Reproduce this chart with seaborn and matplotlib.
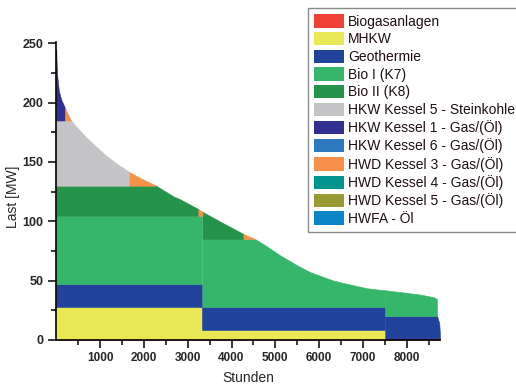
import numpy as np
import matplotlib
matplotlib.use("Agg")
import matplotlib.pyplot as plt
from matplotlib.patches import Patch
from matplotlib.ticker import FixedLocator
import seaborn as sns

# Units in legend order
units = [
    "Biogasanlagen", "MHKW", "Geothermie", "Bio I (K7)", "Bio II (K8)",
    "HKW Kessel 5 - Steinkohle", "HKW Kessel 1 - Gas/(Öl)",
    "HKW Kessel 6 - Gas/(Öl)", "HWD Kessel 3 - Gas/(Öl)",
    "HWD Kessel 4 - Gas/(Öl)", "HWD Kessel 5 - Gas/(Öl)", "HWFA - Öl",
]
unit_colors = [
    "#EF4135", "#E8E854", "#21439B", "#36B66B", "#25934A", "#C4C4C6",
    "#312F8F", "#2E79BF", "#F7914A", "#00958F", "#9A9A35", "#0B85C7",
]

# Sorted annual heat load (load duration curve)
hours = [0, 10, 25, 60, 110, 200, 337, 452, 680, 909, 1137, 1365, 1670,
         1975, 2279, 2675, 2826, 3244, 3336, 3800, 4272, 4540, 4800, 5100,
         5490, 5800, 6100, 6326, 6630, 7090, 7507, 7850, 8300, 8610, 8687,
         8692, 8740, 8760]
load = [245, 232, 222, 210, 203, 195.5, 185, 180, 171, 163, 155.5, 149,
        141.5, 135.4, 130.2, 121, 118.6, 110.3, 108, 98.6, 89.3, 85, 79,
        71.5, 63, 57, 53, 50, 47.3, 43.5, 41.8, 40.3, 38.2, 36, 34.5, 20,
        14, 0]

# Dispatch blocks per unit: (start h, end h, floor MW, cap MW)
blocks = {
    "Biogasanlagen": [(0, 8760, 0, 1)],
    "MHKW": [(0, 3336, 1, 27.7), (3336, 7507, 1, 8)],
    "Geothermie": [(0, 3336, 27.7, 47.3), (3336, 7507, 8, 27.7),
                   (7507, 8760, 1, 20)],
    "Bio I (K7)": [(0, 3336, 47.3, 104.6), (3336, 7507, 27.7, 85),
                   (7507, 8687, 20, 85)],
    "Bio II (K8)": [(0, 3244, 104.6, 130), (3336, 4272, 85, 110)],
    "HKW Kessel 5 - Steinkohle": [(0, 1670, 130, 185)],
    "HKW Kessel 1 - Gas/(Öl)": [(0, 200, 185, 260)],
    "HWD Kessel 3 - Gas/(Öl)": [(200, 337, 185, 260), (1670, 2279, 130, 185),
                                (3244, 3336, 104.6, 130), (4272, 4540, 85, 110)],
}

sns.set_style("ticks")
plt.rcParams["font.family"] = ["Liberation Sans", "DejaVu Sans"]

fig = plt.figure(figsize=(5.16, 3.84), dpi=100)
ax = fig.add_axes([0.109, 0.115, 0.744, 0.775])

h = np.array(hours, dtype=float)
q = np.array(load, dtype=float)
for name, color in zip(units, unit_colors):
    for start, end, floor, cap in blocks.get(name, []):
        mask = (h >= start) & (h <= end)
        upper = np.maximum(np.minimum(q, cap), floor)
        ax.fill_between(h, floor, upper, where=mask, facecolor=color,
                        edgecolor=color, linewidth=0.4, zorder=2)

ax.set_xlim(0, 8760)
ax.set_ylim(0, 251)
ax.xaxis.set_major_locator(FixedLocator(list(range(1000, 8001, 1000))))
ax.xaxis.set_minor_locator(FixedLocator(list(range(500, 8501, 1000))))
ax.yaxis.set_major_locator(FixedLocator(list(range(0, 251, 50))))
ax.yaxis.set_minor_locator(FixedLocator(list(range(25, 226, 50))))
ax.tick_params(which="major", direction="out", length=6, width=1.1,
               color="black", pad=3)
ax.tick_params(which="minor", direction="out", length=3.5, width=1.1,
               color="black")
ax.tick_params(axis="x", labelsize=8.5)
ax.tick_params(axis="y", labelsize=9)
for lab in ax.get_xticklabels() + ax.get_yticklabels():
    lab.set_fontweight("bold")
ax.set_xlabel("Stunden", fontsize=10, labelpad=5)
ax.set_ylabel("Last [MW]", fontsize=10)
ax.yaxis.set_label_coords(-0.094, 0.48)
sns.despine(ax=ax)
for side in ("left", "bottom"):
    ax.spines[side].set_linewidth(1.2)
    ax.spines[side].set_color("black")
ax.spines["bottom"].set_zorder(3)

handles = [Patch(facecolor=c, edgecolor="none") for c in unit_colors]
leg = fig.legend(handles, units, loc="upper left",
                 bbox_to_anchor=(308 / 516, 1 - 8 / 384), borderaxespad=0,
                 fontsize=10, frameon=True, fancybox=False, framealpha=1,
                 edgecolor="#8a8a8a", handlelength=2.15, handleheight=1.1,
                 handletextpad=0.3, labelspacing=0.235, borderpad=0.45)
leg.get_frame().set_linewidth(1.0)
for t in leg.get_texts():
    t.set_color("#1e0f16")

fig.savefig("out.png", dpi=100)
